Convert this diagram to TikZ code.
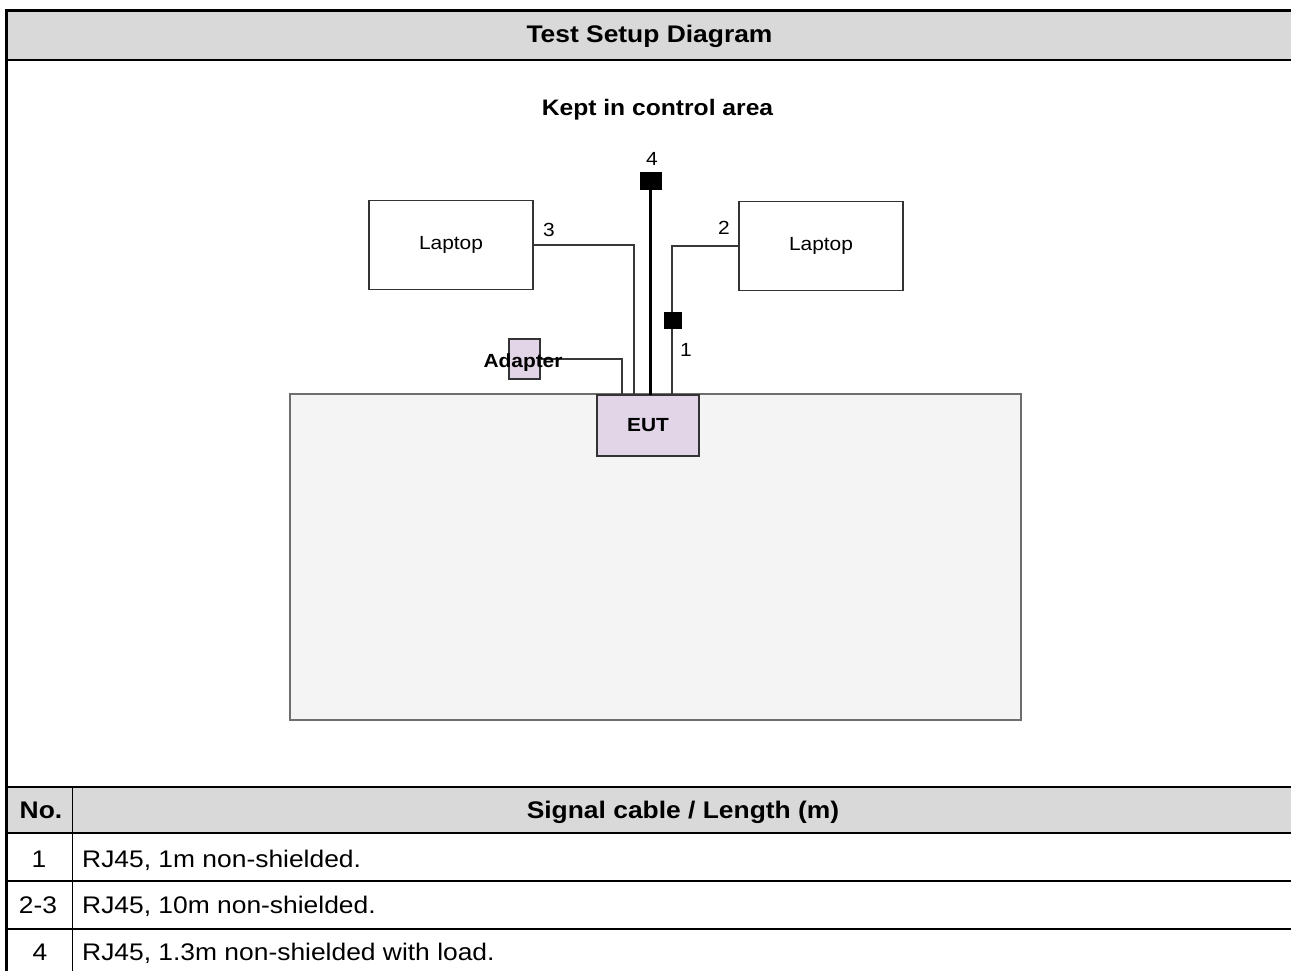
\documentclass[tikz,border=0pt]{standalone}
\usepackage{fontspec}
\setmainfont[FakeStretch=1.1]{Liberation Sans}

\definecolor{hdrgray}{HTML}{D9D9D9}
\definecolor{eutfill}{HTML}{E1D5E7}
\definecolor{planefill}{HTML}{F4F4F4}
\definecolor{planeedge}{HTML}{6E6E6E}
\definecolor{wire}{HTML}{383838}
\definecolor{boxedge}{HTML}{333333}

\tikzset{
  rule/.style={line width=2pt, black},
  celltext/.style={inner sep=0pt, font=\fontsize{24}{28}\selectfont},
  cellbold/.style={inner sep=0pt, font=\fontsize{24}{28}\selectfont\bfseries},
  smalltext/.style={inner sep=0pt, font=\fontsize{19}{22}\selectfont},
  smallbold/.style={inner sep=0pt, font=\fontsize{19}{22}\selectfont\bfseries},
  laptopbox/.style={draw=boxedge, line width=1.5pt, fill=white,
    minimum width=164pt, minimum height=89pt, inner sep=0pt,
    font=\fontsize{19}{22}\selectfont},
  eutbox/.style={draw=boxedge, line width=1.8pt, fill=eutfill,
    minimum width=102pt, minimum height=61pt, inner sep=0pt,
    font=\fontsize{19}{22}\selectfont\bfseries},
  adapterbox/.style={draw=boxedge, line width=1.5pt, fill=eutfill,
    minimum width=31pt, minimum height=40pt, inner sep=0pt},
  planebox/.style={draw=planeedge, line width=2.2pt, fill=planefill,
    minimum width=731pt, minimum height=326pt, inner sep=0pt},
  plug/.style={fill=black, inner sep=0pt},
  cable/.style={draw=wire, line width=1.6pt},
  heavycable/.style={draw=black, line width=3.5pt},
}

\begin{document}
\begin{tikzpicture}[x=1pt,y=-1pt]
\useasboundingbox (0,0) rectangle (1291,971);

% ---- table frame and header shading ----
\fill[hdrgray] (8,12) rectangle (1291,59);
\fill[hdrgray] (8,787.5) rectangle (1291,832);
\draw[line width=3.5pt] (6.5,971) -- (6.5,10.5) -- (1291,10.5);
\draw[rule] (8,60) -- (1291,60);
\draw[rule] (8,786.5) -- (1291,786.5);
\draw[rule] (8,833) -- (1291,833);
\draw[rule] (8,881) -- (1291,881);
\draw[rule] (8,928.5) -- (1291,928.5);
\draw[line width=1.5pt] (72.7,787.5) -- (72.7,971);

% ---- headings ----
\node[cellbold, anchor=base] (title) at (649.5,43) {Test Setup Diagram};
\node[smallbold, font=\fontsize{22.4}{26}\selectfont\bfseries, anchor=base] (area) at (657.5,116) {Kept in control area};

% ---- test bench ----
\node[planebox] (plane) at (655.5,557) {};
\node[eutbox] (eut) at (648,425.5) {EUT};
\node[laptopbox] (lapL) at (451,245) {Laptop};
\node[laptopbox] (lapR) at (821,246) {Laptop};
\node[adapterbox] (adp) at (524.5,359) {};

% cable end points on top of the EUT
\coordinate (pA) at (622,395);
\coordinate (p3) at (634,395);
\coordinate (p4) at (650.5,395);
\coordinate (p1) at (672,395);

% plugs
\node[plug, minimum width=22pt, minimum height=18pt] (sq4) at (651,181) {};

% cables
\draw[cable] (adp.east) -| (pA);
\draw[cable] (lapL.east) -| (p3);
\draw[cable] (lapR.west) -| (p1);
\draw[heavycable] (sq4.south -| p4) -- (p4);
\node[plug, minimum width=18pt, minimum height=17pt] (sq1) at (673,320.5) {};

% cable labels
\node[smallbold, anchor=base] (adlabel) at (523,367) {Adapter};
\node[smalltext, anchor=base] (n4) at (652,165) {4};
\node[smalltext, anchor=base] (n3) at (549,236) {3};
\node[smalltext, anchor=base] (n2) at (724,234) {2};
\node[smalltext, anchor=base] (n1) at (686,356) {1};

% ---- cable list ----
\node[cellbold, anchor=base] (hno) at (41,818) {No.};
\node[cellbold, anchor=base] (hsig) at (683,818) {Signal cable / Length (m)};
\node[celltext, anchor=base] (r1no) at (39,867) {1};
\node[celltext, anchor=base] (r2no) at (38,913) {2-3};
\node[celltext, anchor=base] (r3no) at (40,960) {4};
\node[celltext, anchor=base west] (r1) at (82,867) {RJ45, 1m non-shielded.};
\node[celltext, anchor=base west] (r2) at (82,913) {RJ45, 10m non-shielded.};
\node[celltext, anchor=base west] (r3) at (82,960) {RJ45, 1.3m non-shielded with load.};
\end{tikzpicture}
\end{document}
